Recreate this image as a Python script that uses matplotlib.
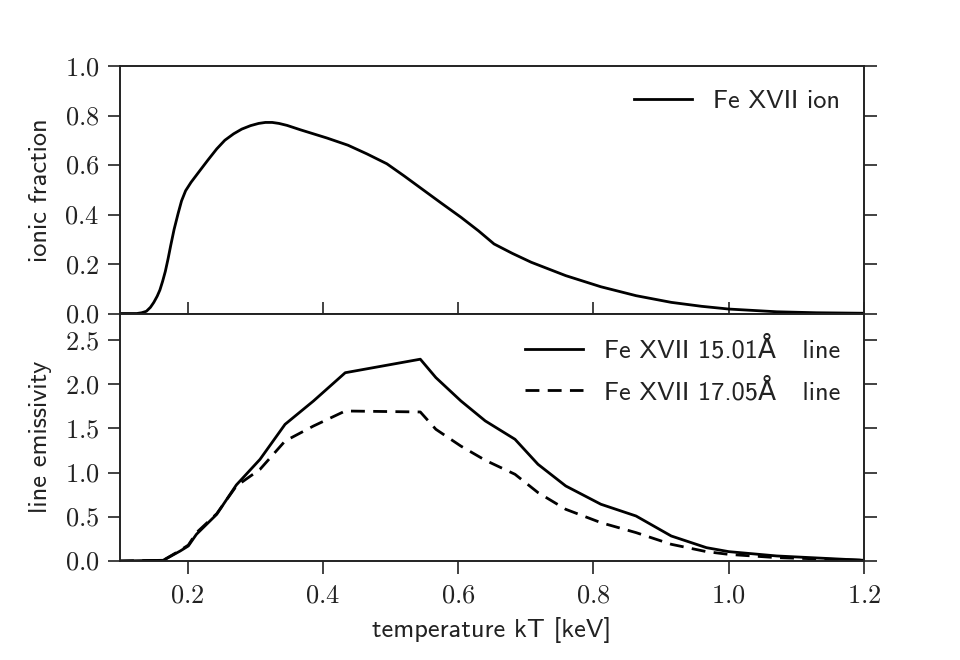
import matplotlib
matplotlib.use("Agg")
import matplotlib.pyplot as plt
from matplotlib.ticker import FuncFormatter

# ionic fraction of Fe XVII vs temperature
kt_ion = [0.10, 0.125, 0.132, 0.139, 0.145, 0.150, 0.155, 0.159, 0.163, 0.167,
          0.171, 0.175, 0.180, 0.186, 0.191, 0.197, 0.205, 0.218, 0.230, 0.243,
          0.255, 0.268, 0.280, 0.293, 0.305, 0.315, 0.325, 0.335, 0.347, 0.367,
          0.406, 0.437, 0.465, 0.4945, 0.520, 0.546, 0.575, 0.604, 0.630, 0.653,
          0.680, 0.708, 0.759, 0.811, 0.863, 0.915, 0.960, 1.0, 1.071, 1.13, 1.2]
frac_ion = [0.0, 0.0, 0.003, 0.009, 0.025, 0.045, 0.07, 0.095, 0.13, 0.17,
            0.22, 0.275, 0.34, 0.405, 0.455, 0.496, 0.53, 0.577, 0.62, 0.665,
            0.70, 0.726, 0.745, 0.759, 0.768, 0.772, 0.772, 0.768, 0.760, 0.742,
            0.709, 0.680, 0.645, 0.605, 0.556, 0.504, 0.446, 0.389, 0.334, 0.281,
            0.243, 0.207, 0.153, 0.108, 0.072, 0.045, 0.029, 0.018, 0.007, 0.003, 0.001]

# line emissivities
kt_line = [0.10, 0.164, 0.189, 0.201, 0.213, 0.243, 0.272, 0.307, 0.344, 0.386,
           0.433, 0.544, 0.567, 0.604, 0.640, 0.684, 0.718, 0.759, 0.811, 0.863,
           0.915, 0.967, 1.0, 1.071, 1.2]
emis_1501 = [0.0, 0.008, 0.113, 0.170, 0.302, 0.528, 0.860, 1.150, 1.546, 1.810,
             2.130, 2.283, 2.075, 1.811, 1.585, 1.377, 1.094, 0.849, 0.642, 0.509,
             0.283, 0.151, 0.106, 0.057, 0.008]
emis_1705 = [0.0, 0.008, 0.121, 0.180, 0.320, 0.535, 0.848, 1.037, 1.357, 1.527,
             1.697, 1.686, 1.490, 1.300, 1.140, 0.981, 0.774, 0.585, 0.434, 0.321,
             0.189, 0.106, 0.075, 0.038, 0.008]

ion_label = "Fe XVII ion"
line_labels = ["Fe XVII 15.01Å   line", "Fe XVII 17.05Å   line"]

plt.rcParams["mathtext.fontset"] = "cm"
plt.rcParams["font.family"] = ["cmss10", "DejaVu Sans"]
plt.rcParams["font.size"] = 19
ink = "#222222"
plt.rcParams["text.color"] = ink
plt.rcParams["axes.labelcolor"] = ink
plt.rcParams["xtick.color"] = ink
plt.rcParams["ytick.color"] = ink
plt.rcParams["axes.edgecolor"] = ink
plt.rcParams["axes.linewidth"] = 1.4

# tick numbers in computer modern roman
fmt = FuncFormatter(lambda v, pos: r"$%.1f$" % v)

fig, (ax1, ax2) = plt.subplots(2, 1, sharex=True, figsize=(9.6, 6.6), dpi=100)
fig.subplots_adjust(left=0.125, right=0.9, bottom=0.15, top=0.9, hspace=0)

ax1.plot(kt_ion, frac_ion, color="k", lw=2, label=ion_label)
ax1.set_ylim(0, 1.0)
ax1.set_yticks([0.0, 0.2, 0.4, 0.6, 0.8, 1.0])
ax1.yaxis.set_major_formatter(fmt)
ax1.set_ylabel("ionic fraction", labelpad=9)
ax1.legend(loc="upper right", frameon=False, handlelength=2.2)
ax1.tick_params(axis="y", direction="out", left=True, right=True,
                length=9, width=1.2, pad=6)
ax1.tick_params(axis="x", direction="in", bottom=True, top=False, labelbottom=False,
                length=9, width=1.2)

ax2.plot(kt_line, emis_1501, color="k", lw=2, label=line_labels[0])
ax2.plot(kt_line, emis_1705, color="k", lw=2, linestyle=(0, (5, 3)), label=line_labels[1])
ax2.set_xlim(0.1, 1.2)
ax2.set_ylim(0, 2.8)
ax2.set_yticks([0.0, 0.5, 1.0, 1.5, 2.0, 2.5])
ax2.set_xticks([0.2, 0.4, 0.6, 0.8, 1.0, 1.2])
ax2.yaxis.set_major_formatter(fmt)
ax2.xaxis.set_major_formatter(fmt)
ax2.set_ylabel("line emissivity", labelpad=9)
ax2.set_xlabel("temperature kT [keV]", labelpad=7)
ax2.legend(loc="upper right", frameon=False, handlelength=2.2, labelspacing=0.6)
ax2.tick_params(axis="y", direction="out", left=True, right=True,
                length=9, width=1.2, pad=6)
ax2.tick_params(axis="x", direction="out", bottom=True, top=False,
                length=9, width=1.2, pad=8)

fig.savefig("out.png", dpi=100)
